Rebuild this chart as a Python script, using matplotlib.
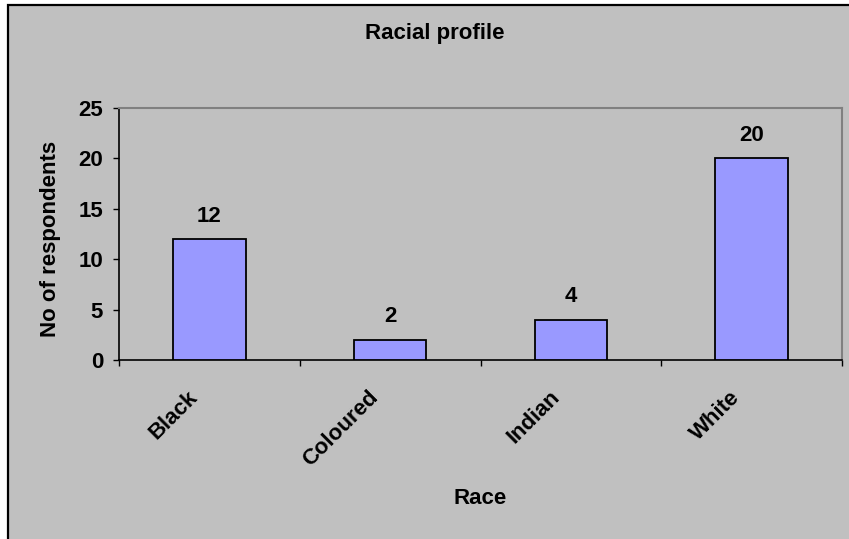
import matplotlib
matplotlib.use("Agg")
import matplotlib.pyplot as plt
from matplotlib.patches import Rectangle
from matplotlib.transforms import offset_copy, blended_transform_factory

races = ["Black", "Coloured", "Indian", "White"]
respondents = [12, 2, 4, 20]
y_ticks = [0, 5, 10, 15, 20, 25]

W, H, DPI = 849, 539, 100
FS = 16
plt.rcParams["font.family"] = ["Liberation Sans", "DejaVu Sans"]
plt.rcParams["font.weight"] = "bold"

fig = plt.figure(figsize=(W / DPI, H / DPI), dpi=DPI, facecolor="white")

# chart area panel with its black frame
frame = Rectangle((8 / W, -0.05), 1.05, 1.05 - 5 / H, transform=fig.transFigure,
                  facecolor="#c0c0c0", edgecolor="black", linewidth=1.6, zorder=-5)
fig.patches.append(frame)

L, R, T, B = 119, 842, 108, 360
ax = fig.add_axes([L / W, 1 - B / H, (R - L) / W, (B - T) / H])
ax.set_facecolor("#c0c0c0")

x = list(range(len(races)))
ax.bar(x, respondents, width=0.4, color="#9999ff", edgecolor="black", linewidth=1.3, zorder=3)

ax.set_xlim(-0.5, len(races) - 0.5)
ax.set_ylim(0, 25)
ax.set_yticks(y_ticks)
ax.set_yticklabels([str(v) for v in y_ticks], fontsize=FS, fontweight="bold")
ax.tick_params(axis="y", direction="out", length=4.5, width=1, pad=7, color="black")

# category boundary ticks on the x axis
ax.set_xticks([i - 0.5 for i in range(len(races) + 1)])
ax.set_xticklabels([])
ax.tick_params(axis="x", direction="out", length=4.5, width=1, color="black")

for side in ("top", "right"):
    ax.spines[side].set_color("#808080")
    ax.spines[side].set_linewidth(1.5)
for side in ("left", "bottom"):
    ax.spines[side].set_color("black")
    ax.spines[side].set_linewidth(1.2)

# rotated category labels
trans = blended_transform_factory(ax.transData, ax.transAxes)
for xi, name in zip(x, races):
    t = offset_copy(trans, fig=fig, x=-22, y=-27, units="dots")
    ax.text(xi, 0, name, transform=t, rotation=45, rotation_mode="anchor",
            ha="right", va="top", fontsize=FS, fontweight="bold")

# value labels above bars
for xi, v in zip(x, respondents):
    ax.annotate(str(v), (xi, v), xytext=(0, 12.5), textcoords="offset points",
                ha="center", va="baseline", fontsize=FS, fontweight="bold")

fig.text(435 / W, 1 - 33 / H, "Racial profile", ha="center", va="center",
         fontsize=FS, fontweight="bold")
fig.text(480.5 / W, 1 - 498 / H, "Race", ha="center", va="center",
         fontsize=FS, fontweight="bold")
fig.text(51 / W, 1 - 239 / H, "No of respondents", ha="center", va="center",
         rotation=90, fontsize=FS, fontweight="bold")

fig.savefig("out.png", dpi=DPI, facecolor="white")
